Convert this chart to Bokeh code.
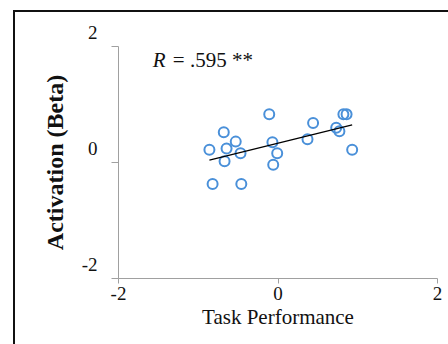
import numpy as np
from bokeh.plotting import figure
from bokeh.models import ColumnDataSource, Label, FixedTicker
from bokeh.embed import file_html
from bokeh.resources import INLINE

# Data
task_performance = [-0.11, 0.82, 0.86, -0.68, 0.44, 0.73, 0.77, -0.53, -0.07, 0.37,
                    -0.86, -0.645, -0.47, -0.01, 0.93, -0.67, -0.06, -0.82, -0.46]
activation = [0.83, 0.83, 0.83, 0.52, 0.68, 0.60, 0.54, 0.36, 0.35, 0.40,
              0.22, 0.24, 0.16, 0.16, 0.22, 0.02, -0.04, -0.37, -0.37]
x_ticks = [-2, 0, 2]
y_ticks = [-2, 0, 2]
r_label = "R"
r_value = "= .595 **"
x_title = "Task Performance"
y_title = "Activation (Beta)"

SERIF = "Liberation Serif"
BLUE = "#4a90d9"
INK = "#111111"

p = figure(width=448, height=344, x_range=(-2, 2), y_range=(-2, 2),
           output_backend="svg", toolbar_location=None,
           min_border_left=118, min_border_right=11,
           min_border_top=46, min_border_bottom=66)
# frame of the original picture: a dark rule on the left and top only
p.border_fill_color = None
p.background_fill_color = None
p.styles = {"background": ("linear-gradient(#111111, #111111) 13px 10px / 2px 334px no-repeat, "
                           "linear-gradient(#111111, #111111) 13px 10px / 435px 2px no-repeat, "
                           "#ffffff")}
p.outline_line_color = None
p.xgrid.visible = False
p.ygrid.visible = False

src = ColumnDataSource(dict(x=task_performance, y=activation))
p.scatter("x", "y", source=src, marker="circle", size=10,
          fill_color=None, line_color=BLUE, line_width=2)

# regression line computed from the data
xs = np.array(task_performance)
ys = np.array(activation)
slope, icpt = np.polyfit(xs, ys, 1)
lx = np.array([xs.min(), xs.max()])
p.line(lx, slope * lx + icpt, line_color="black", line_width=1.3)

for ax in (p.xaxis[0], p.yaxis[0]):
    ax.axis_line_color = "#a0a0a0"
    ax.major_tick_line_color = "#a0a0a0"
    ax.minor_tick_line_color = None
    ax.major_tick_in = 0
    ax.major_label_text_font = SERIF
    ax.major_label_text_font_size = "19px"
    ax.major_label_text_color = INK
    ax.axis_label_text_font = SERIF
    ax.axis_label_text_color = INK

p.xaxis.ticker = FixedTicker(ticks=x_ticks)
p.yaxis.ticker = FixedTicker(ticks=y_ticks)
p.xaxis.major_label_overrides = {t: str(t) for t in x_ticks}
# second (blank) line lifts each y tick label above its tick, as in the original
p.yaxis.major_label_overrides = {t: str(t) + "\n\u00a0" for t in y_ticks}
p.yaxis.major_label_text_line_height = 1.3
p.xaxis.major_tick_out = 5
p.yaxis.major_tick_out = 7
p.xaxis.major_label_standoff = 3
p.yaxis.major_label_standoff = 14

p.xaxis.axis_label = x_title
p.xaxis.axis_label_text_font_size = "21px"
p.xaxis.axis_label_text_font_style = "normal"
p.xaxis.axis_label_standoff = 2

p.yaxis.axis_label = y_title
p.yaxis.axis_label_text_font_size = "24px"
p.yaxis.axis_label_text_font_style = "bold"
p.yaxis.axis_label_standoff = 11

# R annotation
p.add_layout(Label(x=-1.57, y=1.76, text=r_label, text_font=SERIF,
                   text_font_style="italic", text_font_size="21px",
                   text_baseline="middle", text_color=INK))
p.add_layout(Label(x=-1.57, y=1.76, x_offset=20, text=r_value, text_font=SERIF,
                   text_font_size="21px", text_baseline="middle", text_color=INK))

open("out.html", "w").write(file_html(p, INLINE))
